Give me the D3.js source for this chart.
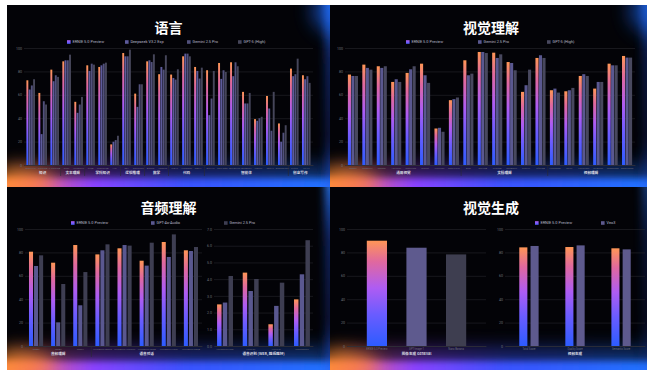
<!DOCTYPE html>
<html><head><meta charset="utf-8">
<script src="https://cdn.jsdelivr.net/npm/d3@7"></script>
<style>
html,body{margin:0;padding:0;background:#fff;}
svg{display:block;font-family:"Noto Sans CJK SC","Noto Sans",sans-serif;}
</style>
</head><body>
<svg id="c" width="647" height="370"></svg>
<script>
// ---------- 语言 ----------
const langSeries = ["ERNIE 5.0 Preview", "Deepseek V3.2 Exp", "Gemini 2.5 Pro", "GPT-5 (High)"];
const langBench = ["MMLU-Pro", "SimpleQA", "C-SimpleQA", "DROP", "LongBench", "GPQA", "SuperGPQA", "HLE",
  "BBH", "ZebraLogic", "AIME25", "HMMT25", "LCB v6", "HumanEval", "MBPP+", "BFCL-v3", "Tau2-Retail",
  "Tau2-Airline", "ACEBench", "IFBench", "Multi-IF", "BrowseComp", "Writing", "CW-v3"];
const langCat = ["知识", "知识", "知识", "文本理解", "文本理解", "学科知识", "学科知识", "学科知识", "逻辑推理", "逻辑推理",
  "数学", "数学", "代码", "代码", "代码", "智能体", "智能体", "智能体", "智能体", "智能体", "智能体", "智能体", "创意写作", "创意写作"];
const langErnie = [72.4, 61.6, 81.5, 88.6, 54.0, 85.2, 83.8, 17.6, 95.7, 61.0, 88.6, 77.6, 77.3, 92.9, 83.8, 81.0, 87.2, 87.8, 62.5, 39.2, 59.0, 35.5, 82.4, 76.7];
const langDeepseek = [64.5, 26.4, 71.6, 89.5, 44.6, 80.4, 85.2, 19.9, 92.9, 49.7, 89.5, 83.8, 74.4, 95.2, 80.4, 42.6, 73.6, 75.9, 52.6, 37.8, 48.3, 19.9, 75.9, 73.3];
const langGemini = [68.0, 54.5, 76.7, 89.5, 51.7, 86.6, 86.6, 21.3, 92.9, 69.0, 88.0, 81.5, 73.0, 95.2, 73.9, 56.8, 81.0, 87.8, 52.6, 40.0, 29.3, 27.6, 77.6, 75.9];
const langGpt = [73.3, 51.7, 75.3, 94.3, 58.2, 85.8, 87.5, 25.0, 98.6, 69.0, 94.6, 93.8, 81.8, 92.9, 83.2, 80.4, 79.5, 84.4, 61.6, 41.2, 62.5, 34.0, 90.9, 70.2];

// ---------- 视觉理解 ----------
const visSeries = ["ERNIE 5.0 Preview", "Gemini 2.5 Pro", "GPT-5 (High)"];
const visBench = ["MMMU", "MMBench", "MMStar", "Hallusion", "MathVista", "MMVet", "VisuLogic", "MathVision",
  "AI2D", "DocVQA", "ChartQA", "OCRBench", "CharXiv", "InfoVQA", "VideoMME", "MLVU", "LongVideo", "MVBench", "TempComp", "EgoSchema"];
const visCat = ["通用视觉", "通用视觉", "通用视觉", "通用视觉", "通用视觉", "通用视觉", "通用视觉", "通用视觉",
  "文档理解", "文档理解", "文档理解", "文档理解", "文档理解", "文档理解", "视频理解", "视频理解", "视频理解", "视频理解", "视频理解", "视频理解"];
const visErnie = [77.3, 85.8, 84.4, 71.0, 78.7, 86.6, 31.2, 55.4, 89.5, 96.6, 96.0, 88.0, 62.5, 91.5, 63.9, 63.0, 76.1, 65.3, 86.6, 93.2];
const visGemini = [76.1, 83.0, 83.0, 73.3, 81.8, 76.7, 31.8, 56.3, 76.7, 96.6, 91.5, 87.2, 68.2, 93.8, 65.3, 63.9, 77.6, 71.0, 85.2, 91.8];
const visGpt = [76.1, 81.5, 84.4, 71.0, 84.4, 70.2, 28.4, 57.7, 78.1, 95.7, 94.6, 81.0, 81.5, 91.5, 61.9, 65.9, 76.1, 71.0, 85.2, 91.8];

// ---------- 音频理解 ----------
const audSeries = ["ERNIE 5.0 Preview", "GPT-4o-Audio", "Gemini 2.5 Pro"];
const audBench = ["MMAU", "MMAR", "MMSU", "VoiceBench-Alpaca", "VoiceBench-Common", "VoiceBench-SDQA", "VoiceBench-IFEval", "VoiceBench-OBQA"];
const audCat = ["音频理解", "音频理解", "音频理解", "语音对话", "语音对话", "语音对话", "语音对话", "语音对话"];
const audErnie = [80.6, 71.2, 86.3, 78.3, 83.5, 72.9, 88.9, 81.8];
const audGpt4o = [68.4, 20.2, 34.8, 81.8, 86.3, 68.7, 76.1, 81.2];
const audGemini = [77.5, 53.0, 63.2, 86.9, 85.8, 88.3, 95.4, 84.6];
const asrBench = ["Librispeech-clean", "Fleurs-zh", "Fleurs-en", "WenetSpeech"];
const asrCat = ["语音识别 (WER, 越低越好)", "语音识别 (WER, 越低越好)", "语音识别 (WER, 越低越好)", "语音识别 (WER, 越低越好)"];
const asrErnie = [2.49, 4.39, 1.30, 2.79];
const asrGpt4o = [2.60, 3.29, 2.40, 4.29];
const asrGemini = [4.19, 4.01, 3.79, 6.33];

// ---------- 视觉生成 ----------
const genSeries = ["ERNIE 5.0 Preview", "Veo3"];
const imgModels = ["ERNIE 5.0 Preview", "GPT-Image-1", "Nano Banana"];
const imgCat = ["图像生成 GenEval", "图像生成 GenEval", "图像生成 GenEval"];
const imgScores = [90.0, 84.0, 78.3];
const vidMetrics = ["Total Score", "Quality Score", "Semantic Score"];
const vidCat = ["视频生成", "视频生成", "视频生成"];
const vidErnie = [84.3, 84.6, 83.5];
const vidVeo3 = [85.5, 86.0, 82.6];

// ---------- drawing ----------
const svg = d3.select("#c");
const defs = svg.append("defs");

function gradient(id, x2, y2, stops) {
  const g = defs.append("linearGradient").attr("id", id)
    .attr("x1", 0).attr("y1", y2 < 0 ? 1 : 0).attr("x2", x2).attr("y2", y2 < 0 ? 0 : y2);
  stops.forEach(([o, c, op]) => g.append("stop").attr("offset", o).attr("stop-color", c).attr("stop-opacity", op == null ? 1 : op));
}
gradient("ernieGrad", 0, -1, [[0, "#2d5cff"], [0.3, "#6a5cff"], [0.55, "#ae5cf3"], [0.8, "#e0689f"], [1, "#ff9656"]]);
gradient("ernieSwatch", 0, -1, [[0, "#4a5cff"], [1, "#b05cf0"]]);
gradient("stripGrad", 1, 0, [[0, "#ff9a3a"], [0.1, "#e8608a"], [0.28, "#8a42ff"], [0.55, "#3a52ff"], [1, "#1e74ff"]]);
gradient("edgeGrad", 0, 1, [[0, "#2a80ff", 1], [0.3, "#1f50d8", 0.45], [0.7, "#1a3ab0", 0.3], [1, "#2a6bff", 0.8]]);

[2, 3, 4, 9].forEach(s => {
  defs.append("filter").attr("id", "blur" + s)
    .attr("x", "-100%").attr("y", "-100%").attr("width", "300%").attr("height", "300%")
    .append("feGaussianBlur").attr("stdDeviation", s);
});

let clipN = 0;
function panel(px, py, pw, ph, opt) {
  const id = "clip" + (clipN++);
  defs.append("clipPath").attr("id", id).append("rect")
    .attr("x", px).attr("y", py).attr("width", pw).attr("height", ph);
  const g = svg.append("g").attr("clip-path", `url(#${id})`);
  g.append("rect").attr("x", px).attr("y", py).attr("width", pw).attr("height", ph).attr("fill", "#030307");
  // haze above the bottom edge
  g.append("rect").attr("x", px).attr("y", py + ph - 22).attr("width", pw).attr("height", 26)
    .attr("fill", "url(#stripGrad)").attr("opacity", 0.45).attr("filter", "url(#blur9)");
  // bright bottom strip
  g.append("rect").attr("x", px - 10).attr("y", py + ph - 9).attr("width", pw + 20).attr("height", 18)
    .attr("fill", "url(#stripGrad)").attr("filter", "url(#blur3)");
  // orange corner glow
  g.append("ellipse").attr("cx", px + 8).attr("cy", py + ph - 4).attr("rx", 40).attr("ry", 13)
    .attr("fill", "#ff8a30").attr("opacity", 0.8).attr("filter", "url(#blur9)");
  if (opt.right) {
    g.append("rect").attr("x", px + pw - 5).attr("y", py - 10).attr("width", 12).attr("height", ph + 20)
      .attr("fill", "url(#edgeGrad)").attr("opacity", opt.right).attr("filter", "url(#blur4)");
  }
  if (opt.corner) {
    g.append("ellipse").attr("cx", px + pw + 4).attr("cy", py + 6).attr("rx", 22).attr("ry", 22)
      .attr("fill", "#1f6bff").attr("opacity", opt.corner).attr("filter", "url(#blur9)");
  }
  return g;
}

function title(g, cx, y, text) {
  g.append("text").attr("x", cx).attr("y", y).attr("text-anchor", "middle")
    .attr("fill", "#ffffff").attr("font-size", 14).attr("font-weight", 700).text(text);
}

function legend(g, y, items) {
  items.forEach(it => {
    g.append("rect").attr("x", it.x).attr("y", y - 1.8).attr("width", 3.6).attr("height", 3.6).attr("fill", it.color);
    g.append("text").attr("x", it.x + 5.5).attr("y", y + 1.4).attr("fill", "#b8b8c8")
      .attr("font-size", 3.9).attr("font-family", "Roboto, sans-serif").text(it.label);
  });
}

function groupedChart(g, o) {
  const n = o.bench.length;
  const x = d3.scaleBand().domain(d3.range(n)).range([o.x0, o.x1]).paddingInner(o.pi).paddingOuter(o.po);
  const y = d3.scaleLinear().domain([0, o.max]).range([o.yBot, o.yTop]);
  const xs = d3.scaleBand().domain(d3.range(o.series.length)).range([0, x.bandwidth()]).paddingInner(o.sub);

  const ya = g.append("g").attr("transform", `translate(${o.x0},0)`)
    .call(d3.axisLeft(y).tickValues(d3.range(0, o.max + 0.001, o.step)).tickSize(-(o.x1 - o.x0)).tickPadding(2));
  ya.select(".domain").remove();
  ya.selectAll(".tick line").attr("stroke", "#26262e").attr("stroke-width", 0.6);
  ya.selectAll(".tick text").attr("fill", "#6f6f7a").attr("font-size", 3.6).attr("font-family", "Roboto, sans-serif");

  o.series.forEach((vals, i) => {
    g.append("g").selectAll("rect").data(vals).join("rect")
      .attr("x", (d, j) => x(j) + xs(i))
      .attr("y", d => y(d))
      .attr("width", xs.bandwidth())
      .attr("height", d => o.yBot - y(d))
      .attr("fill", (d, j) => o.color(i, j));
  });

  const xa = g.append("g").attr("transform", `translate(0,${o.yBot})`)
    .call(d3.axisBottom(x).tickFormat(j => o.bench[j]).tickSize(0).tickPadding(2.2));
  xa.select(".domain").attr("stroke", "#34343c").attr("stroke-width", 0.6);
  xa.selectAll(".tick text").attr("fill", "#6f6f7a").attr("font-size", o.benchFont || 2.6)
    .attr("font-family", "Roboto, sans-serif");

  // second-level category labels and separators
  const step = x.step();
  const spans = [];
  o.cats.forEach((c, j) => {
    if (j === 0 || o.cats[j - 1] !== c) spans.push({ name: c, from: j, to: j });
    else spans[spans.length - 1].to = j;
  });
  spans.forEach((s, k) => {
    const a = x(s.from) - step * o.pi / 2, b = x(s.to) + x.bandwidth() + step * o.pi / 2;
    g.append("text").attr("x", (a + b) / 2).attr("y", o.yBot + 8.5).attr("text-anchor", "middle")
      .attr("fill", "#d8d8e0").attr("font-size", 3.6).attr("font-weight", 700).text(s.name);
    if (k > 0) g.append("line").attr("x1", a).attr("x2", a).attr("y1", o.yBot).attr("y2", o.yBot + 11)
      .attr("stroke", "#2a2a33").attr("stroke-width", 0.6);
  });
  return { x, y };
}

const ERNIE = "url(#ernieGrad)";

// 语言
{
  const g = panel(7, 5, 323, 182, { right: 1, corner: 0.6 });
  title(g, 168.5, 33, "语言");
  const cols = [ERNIE, "#5d5b9c", "#52517c", "#46465a"];
  legend(g, 42, [
    { label: langSeries[0], color: "url(#ernieSwatch)", x: 67 },
    { label: langSeries[1], color: cols[1], x: 125 },
    { label: langSeries[2], color: cols[2], x: 187 },
    { label: langSeries[3], color: cols[3], x: 238 }]);
  groupedChart(g, {
    x0: 24, x1: 313, yTop: 48, yBot: 165, max: 100, step: 20, pi: 0.28, po: 0.2, sub: 0.14,
    bench: langBench, cats: langCat, series: [langErnie, langDeepseek, langGemini, langGpt],
    color: (i) => cols[i], benchFont: 2.2
  });
}

// 视觉理解
{
  const g = panel(330, 5, 317, 182, { right: 0.7, corner: 0.55 });
  title(g, 491, 33, "视觉理解");
  const cols = [ERNIE, "#5a5890", "#48485e"];
  legend(g, 42, [
    { label: visSeries[0], color: "url(#ernieSwatch)", x: 406 },
    { label: visSeries[1], color: cols[1], x: 478 },
    { label: visSeries[2], color: cols[2], x: 547 }]);
  groupedChart(g, {
    x0: 345, x1: 635, yTop: 48, yBot: 165, max: 100, step: 20, pi: 0.3, po: 0.2, sub: 0.12,
    bench: visBench, cats: visCat, series: [visErnie, visGemini, visGpt],
    color: (i) => cols[i], benchFont: 2.3
  });
}

// 音频理解
{
  const g = panel(7, 187, 323, 183, { right: 1 });
  title(g, 168.5, 213, "音频理解");
  const cols = [ERNIE, "#5a5890", "#3e3e52"];
  legend(g, 223, [
    { label: audSeries[0], color: "url(#ernieSwatch)", x: 71 },
    { label: audSeries[1], color: cols[1], x: 151 },
    { label: audSeries[2], color: cols[2], x: 224 }]);
  groupedChart(g, {
    x0: 25, x1: 202, yTop: 229, yBot: 346, max: 100, step: 20, pi: 0.36, po: 0.18, sub: 0.2,
    bench: audBench, cats: audCat, series: [audErnie, audGpt4o, audGemini],
    color: (i) => cols[i], benchFont: 2.2
  });
  groupedChart(g, {
    x0: 214, x1: 313, yTop: 229, yBot: 346, max: 7, step: 1, pi: 0.38, po: 0.12, sub: 0.22,
    bench: asrBench, cats: asrCat, series: [asrErnie, asrGpt4o, asrGemini],
    color: (i) => cols[i], benchFont: 2.2
  });
}

// 视觉生成
{
  const g = panel(330, 187, 317, 183, { right: 0.5 });
  title(g, 491, 213, "视觉生成");
  const cols = [ERNIE, "#5e5a8e", "#3e3e50"];
  legend(g, 223, [
    { label: genSeries[0], color: "url(#ernieSwatch)", x: 535 },
    { label: genSeries[1], color: cols[1], x: 601 }]);
  groupedChart(g, {
    x0: 347, x1: 486, yTop: 229, yBot: 346, max: 100, step: 20, pi: 0.49, po: 0.5, sub: 0,
    bench: imgModels, cats: imgCat, series: [imgScores],
    color: (i, j) => cols[j], benchFont: 2.6
  });
  groupedChart(g, {
    x0: 505, x1: 645, yTop: 229, yBot: 346, max: 100, step: 20, pi: 0.58, po: 0.31, sub: 0.28,
    bench: vidMetrics, cats: vidCat, series: [vidErnie, vidVeo3],
    color: (i) => cols[i], benchFont: 2.6
  });
}
</script>
</body></html>
